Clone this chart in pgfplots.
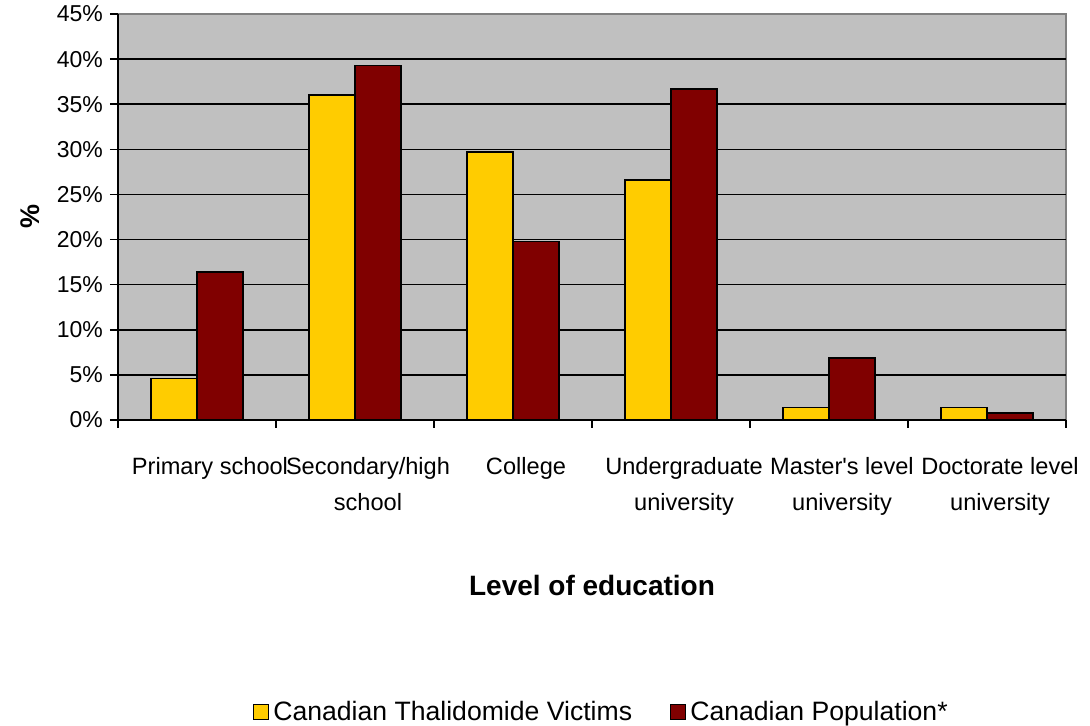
\documentclass[border=0pt]{standalone}
\usepackage{pgfplots}
\pgfplotsset{compat=1.18}
\usepackage{fontspec}
\setmainfont{Liberation Sans}
\definecolor{ybar}{HTML}{FFCC00}
\definecolor{rbar}{HTML}{800000}
\definecolor{bg}{HTML}{C0C0C0}
\begin{document}
\begin{tikzpicture}
\useasboundingbox (0,0) rectangle (545pt,363pt);
\begin{axis}[
  at={(59pt,153pt)}, anchor=south west,
  scale only axis, width=474pt, height=203pt,
  ybar=0pt, bar width=23pt,
  xmin=-0.5, xmax=5.5, ymin=0, ymax=45,
  axis x line*=bottom, axis y line*=left,
  axis line style={black, line width=0.8pt},
  axis background/.style={fill=bg, draw=gray, line width=0.8pt},
  xtick={0,1,2,3,4,5},
  major x tick style={draw=none},
  minor xtick={-0.5,0.5,1.5,2.5,3.5,4.5,5.5},
  minor x tick style={black, line width=0.8pt},
  minor tick length=4pt,
  xticklabels={Primary school, Secondary/high\\school, College, Undergraduate\\university, Master\textquotesingle s level\\university, Doctorate level\\university},
  xticklabel style={align=center, font=\fontsize{11.8}{18}\selectfont, yshift=-11pt, xshift=6.5pt},
  ytick={0,5,...,40},
  extra y ticks={45},
  extra y tick style={grid=none},
  yticklabel={\pgfmathprintnumber{\tick}\%},
  yticklabel style={font=\fontsize{11.5}{13}\selectfont},
  /pgf/number format/assume math mode=true,
  y tick style={black, line width=0.8pt},
  major tick length=4pt,
  tick align=outside,
  ymajorgrids,
  grid style={black, line width=0.8pt},
  xlabel={Level of education},
  xlabel style={font=\bfseries\fontsize{14}{16}\selectfont, at={(axis description cs:0.5,-0.407)}, anchor=center},
  ylabel={\%},
  ylabel style={font=\bfseries\fontsize{13.5}{15}\selectfont, at={(axis description cs:-0.093,0.5)}, anchor=center, rotate=0},
  legend style={at={(axis description cs:0.511,-0.719)}, anchor=center, draw=none, fill=none, legend columns=2, font=\fontsize{13.3}{15}\selectfont, /tikz/every even column/.append style={column sep=17pt}, /tikz/every odd column/.append style={}},
  legend image code/.code={\draw[#1, draw=black, line width=0.6pt] (0pt,-3.75pt) rectangle (7.5pt,3.75pt);},
]
\addplot[fill=ybar, draw=black, line width=0.8pt] coordinates {(0,4.6) (1,36.0) (2,29.7) (3,26.6) (4,1.4) (5,1.4)};
\addplot[fill=rbar, draw=black, line width=0.8pt] coordinates {(0,16.4) (1,39.3) (2,19.8) (3,36.7) (4,6.9) (5,0.8)};
\legend{Canadian Thalidomide Victims, Canadian Population*}
\end{axis}
\end{tikzpicture}
\end{document}
